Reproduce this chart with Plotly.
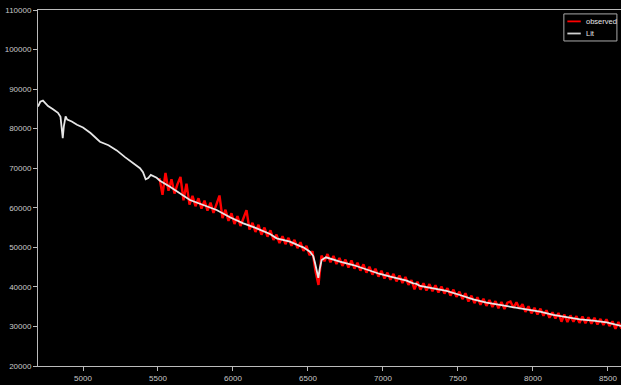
import numpy as np
import plotly.graph_objects as go

# Literature spectrum (wavelength in Angstrom, flux)
lit_wl = [4700, 4715, 4733, 4750, 4767, 4800, 4833, 4850, 4858, 4865, 4872, 4884, 4895,
          4925, 4960, 5000, 5050, 5113, 5170, 5225, 5280, 5335, 5380, 5400, 5418, 5435,
          5452, 5491, 5513, 5580, 5669, 5713, 5802, 5891, 5980, 6069, 6158, 6247, 6291,
          6310, 6380, 6447, 6469, 6513, 6535, 6547, 6560, 6569, 6578, 6591, 6620, 6713,
          6802, 6891, 6980, 7069, 7158, 7202, 7220, 7247, 7335, 7424, 7513, 7602, 7691,
          7780, 7869, 7958, 8047, 8135, 8225, 8313, 8402, 8491, 8590]
lit_fl = [85600, 86800, 87100, 86300, 85700, 84900, 84000, 83000, 80000, 77600, 80500, 83100, 82300,
          81800, 81000, 80300, 78900, 76700, 75800, 74500, 72800, 71300, 70000, 69000, 67200, 67500,
          68300, 67600, 66850, 65330, 62980, 61970, 60700, 59440, 57590, 56070, 54810, 53370, 52270,
          52100, 51430, 50300, 50000, 48900, 47800, 46040, 43500, 42300, 44500, 46800, 47480, 46370,
          45530, 44440, 43260, 42420, 41570, 40910, 40800, 40230, 39650, 38970, 37950, 36860, 36000,
          35420, 34840, 34330, 33730, 32900, 32310, 31810, 31460, 31050, 30100]

# Observed spectrum, sampled every 20 Angstrom from 5510 to 8590
obs_wl = list(range(5510, 8591, 20))
obs_fl = [
    67500, 63300, 68800, 64300, 67200, 63600, 66000, 67800, 61900, 66100,  # 5510-5690
    60800, 63000, 60400, 62400, 59800, 61800, 59300, 61300, 58700, 61000,  # 5710-5890
    63100, 57400, 59500, 56700, 58600, 55900, 57900, 55400, 57300, 59400,  # 5910-6090
    54500, 56200, 53900, 55700, 53200, 55000, 52700, 54300, 51900, 53200,  # 6110-6290
    51100, 52800, 50800, 52400, 50400, 51900, 49800, 51300, 49100, 50400,  # 6310-6490
    48000, 49000, 44000, 40500, 47900, 46500, 48300, 46200, 47800, 45800,  # 6510-6690
    47300, 45300, 46900, 44900, 46700, 44600, 46100, 44100, 45700, 43600,  # 6710-6890
    45100, 43100, 44600, 42600, 44100, 42100, 43600, 41800, 43300, 41400,  # 6910-7090
    42900, 41000, 42500, 40500, 41700, 39400, 41300, 39300, 40900, 39100,  # 7110-7290
    40700, 38900, 40400, 38600, 40100, 38300, 39700, 37800, 39300, 37500,  # 7310-7490
    38800, 36900, 38400, 36300, 37800, 35900, 37400, 35500, 37000, 35200,  # 7510-7690
    36700, 34900, 36400, 34600, 36200, 34400, 36000, 36300, 34700, 36100,  # 7710-7890
    34500, 35600, 33700, 35100, 33300, 34700, 33000, 34500, 32700, 34100,  # 7910-8090
    32200, 33600, 32000, 33400, 31200, 33000, 31100, 32800, 31200, 32600,  # 8110-8290
    30900, 32500, 30800, 32300, 30700, 32200, 30500, 31900, 30400, 31800,  # 8310-8490
    30100, 31300, 29400, 31100, 29500,                                     # 8510-8590
]

y_ticks = [20000, 30000, 40000, 50000, 60000, 70000, 80000, 90000, 100000, 110000]
x_ticks = [5000, 5500, 6000, 6500, 7000, 7500, 8000, 8500]

fig = go.Figure()
fig.add_trace(go.Scatter(x=obs_wl[:len(obs_fl)], y=obs_fl, mode="lines", name="observed",
                         line=dict(color="#ff0000", width=2.4), showlegend=False))
fig.add_trace(go.Scatter(x=lit_wl, y=lit_fl, mode="lines", name="Lit",
                         line=dict(color="#e6e6e6", width=1.8), showlegend=False))

# Legend drawn in paper coordinates (matplotlib-style compact box)
leg_items = [("observed", "#ff0000"), ("Lit", "#d0d0d0")]
shapes = [dict(type="rect", xref="paper", yref="paper", x0=0.902, x1=0.993, y0=0.913, y1=0.989,
               line=dict(color="#aaaaaa", width=1), fillcolor="black", layer="above")]
annotations = []
for i, (label, col) in enumerate(leg_items):
    yy = 0.968 - i * 0.034
    shapes.append(dict(type="line", xref="paper", yref="paper", x0=0.908, x1=0.931, y0=yy, y1=yy,
                       line=dict(color=col, width=1.8), layer="above"))
    annotations.append(dict(xref="paper", yref="paper", x=0.936, y=yy, text=label, showarrow=False,
                            xanchor="left", yanchor="middle",
                            font=dict(family="Liberation Sans Narrow, Liberation Sans", size=7.5,
                                      color="#e6e6e6")))

axis_font = dict(family="Liberation Sans Narrow, Liberation Sans", size=8, color="#c8c8c8")
fig.update_layout(
    width=621, height=385,
    margin=dict(l=38, r=0, t=10, b=19),
    paper_bgcolor="black", plot_bgcolor="black",
    shapes=shapes, annotations=annotations,
    xaxis=dict(range=[4700, 8587], tickvals=x_ticks, ticktext=[str(v) for v in x_ticks],
               showgrid=False, zeroline=False, showline=True, linecolor="#bbbbbb", linewidth=1,
               mirror=True, ticks="outside", ticklen=4, tickcolor="#bbbbbb", tickfont=axis_font),
    yaxis=dict(range=[20000, 110000], tickvals=y_ticks, ticktext=[str(v) for v in y_ticks],
               showgrid=False, zeroline=False, showline=True, linecolor="#bbbbbb", linewidth=1,
               ticks="outside", ticklen=4, tickcolor="#bbbbbb", tickfont=axis_font),
)
fig.write_html("out.html")
